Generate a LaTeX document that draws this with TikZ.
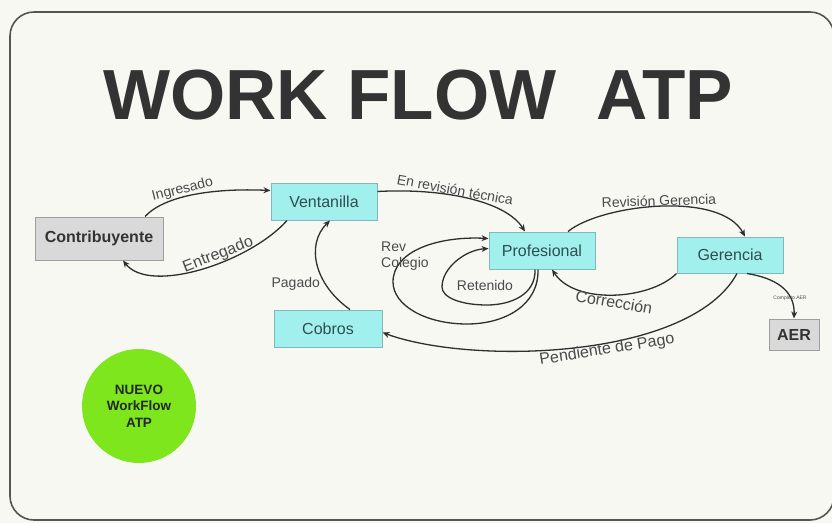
\documentclass[tikz,border=0pt]{standalone}
\usepackage{fontspec}
\setmainfont{Liberation Sans}
\usetikzlibrary{arrows.meta}

\definecolor{paper}{HTML}{F7F8F2}
\definecolor{frameline}{HTML}{555555}
\definecolor{titlegray}{HTML}{333333}
\definecolor{boxcyan}{HTML}{A2F0EE}
\definecolor{cyanedge}{HTML}{7FB9B8}
\definecolor{cyantext}{HTML}{2E4E50}
\definecolor{boxgray}{HTML}{D9D9D9}
\definecolor{grayedge}{HTML}{9E9E9E}
\definecolor{flowline}{HTML}{2F2F2F}
\definecolor{labgray}{HTML}{4A4A4A}
\definecolor{badge}{HTML}{7DE61C}

\tikzset{
  cyanbox/.style={draw=cyanedge, line width=1pt, fill=boxcyan, text=cyantext,
    minimum width=106, minimum height=37, inner sep=0pt,
    font=\fontsize{16}{19}\selectfont},
  graybox/.style={draw=grayedge, line width=1pt, fill=boxgray, text=titlegray,
    inner sep=0pt, font=\bfseries\fontsize{16}{19}\selectfont},
  flow/.style={draw=flowline, line width=1.3pt,
    -{Stealth[length=7pt,width=6pt]}},
  lab/.style={text=labgray, inner sep=1pt, font=\fontsize{14}{16}\selectfont},
  biglab/.style={lab, font=\fontsize{16}{18}\selectfont},
}

\begin{document}
\begin{tikzpicture}[x=1pt,y=-1pt]
\useasboundingbox (0,0) rectangle (832,523);
\fill[paper] (0,0) rectangle (832,523);

% slide frame
\draw[frameline, line width=1.6pt, rounded corners=24pt] (10,12) rectangle (834,520);

% title
\node[text=titlegray, font=\bfseries\fontsize{71}{80}\selectfont, inner sep=0pt]
  (title) at (418,95) {WORK FLOW\ \ ATP};

% process boxes
\node[graybox, minimum width=128, minimum height=43] (contrib) at (99,238.5) {Contribuyente};
\node[cyanbox] (vent) at (324,201.5) {Ventanilla};
\node[cyanbox] (prof) at (542,250.5) {Profesional};
\node[cyanbox, minimum height=36] (ger) at (730,255) {Gerencia};
\node[cyanbox, minimum width=108] (cobros) at (328,328.5) {Cobros};
\node[graybox, minimum width=50, minimum height=31] (aer) at (794,334.5) {AER};

% badge
\node[circle, fill=badge, minimum size=114, inner sep=0pt, align=center,
      text=black!85, font=\bfseries\fontsize{13.5}{16.5}\selectfont]
  (badge) at (139,406) {NUEVO\\WorkFlow\\ATP};

% connectors
\draw[flow] ([xshift=46pt]contrib.north) .. controls (165,195) and (215,188) ..
  node[lab, pos=0.42, sloped, above=-1pt] {Ingresado} ([yshift=11pt]vent.west);

\draw[flow] ([xshift=-37pt]vent.south) .. controls (250,262) and (150,295) ..
  node[biglab, pos=0.4, sloped, above=-1pt] {Entregado} ([xshift=24pt]contrib.south);

\draw[flow] ([yshift=10pt]vent.east) .. controls (440,188) and (505,200) ..
  node[lab, pos=0.42, sloped, above=-1pt] {En revisión técnica} ([xshift=-17pt]prof.north);

\draw[flow] ([xshift=22pt]cobros.north) .. controls (315,285) and (305,245) ..
  node[lab, pos=0.3, left=4pt] {Pagado} ([xshift=6pt]vent.south);

\draw[flow] ([xshift=-4pt]prof.south) .. controls (539,305) and (505,324) .. (467,324)
  .. controls (425,324) and (393,305) .. (393,282)
  .. controls (393,250) and (440,236) .. ([yshift=12pt]prof.west);
\node[lab, anchor=west, align=left, font=\fontsize{14}{16}\selectfont]
  (revcol) at (380,256) {Rev\\Colegio};

\draw[flow] ([xshift=-7pt]prof.south) .. controls (536,295) and (510,305) .. (487,305)
  .. controls (462,305) and (442,298) .. (442,287)
  .. controls (442,268) and (465,250) .. ([yshift=2pt]prof.west);
\node[lab] (reten) at (485,285) {Retenido};

\draw[flow] ([xshift=26pt]prof.north) .. controls (600,205) and (720,190) ..
  node[lab, pos=0.5, sloped, above=-1pt] {Revisión Gerencia} ([xshift=15pt]ger.north);

\draw[flow] (ger.south west) .. controls (650,300) and (575,305) .. ([xshift=10pt]prof.south);
\node[biglab, rotate=-10] (correc) at (614,302) {Corrección};

\draw[flow] ([xshift=7pt]ger.south) .. controls (690,360) and (470,365) .. ([yshift=-4pt]cobros.east);
\node[biglab, rotate=9] (pend) at (607,350) {Pendiente de Pago};

\draw[flow] ([xshift=17pt]ger.south) .. controls (775,278) and (795,290) .. (aer.north);
\node[lab, font=\fontsize{5}{6}\selectfont] (compaer) at (790,298) {Completo AER};
\end{tikzpicture}
\end{document}
